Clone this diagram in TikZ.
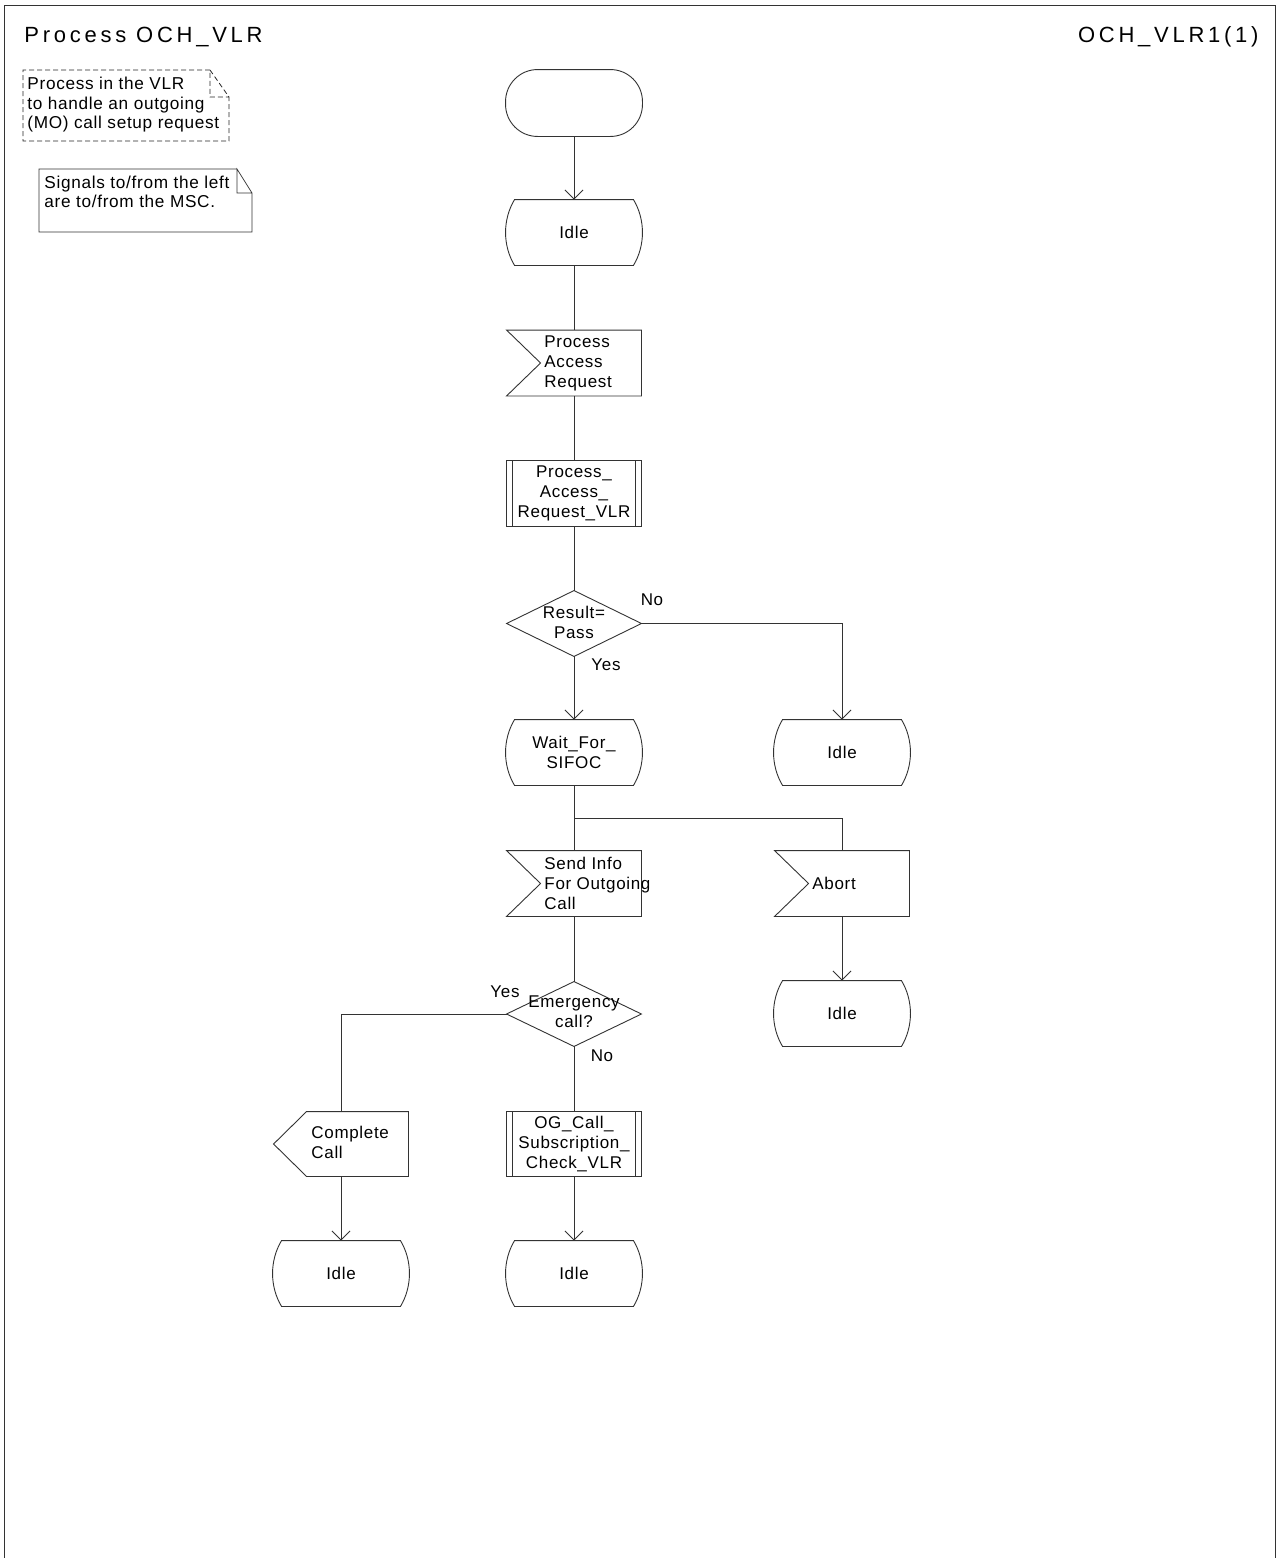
\documentclass[tikz,border=0pt]{standalone}
\usepackage{fontspec}
\setmainfont{Liberation Sans}
\newfontfamily\bodyfont[LetterSpace=4]{Liberation Sans}
\newfontfamily\titlefont[LetterSpace=17]{Liberation Sans}
\usetikzlibrary{arrows.meta,calc}
\newcommand\bodytext{\bodyfont\fontsize{17}{20}\selectfont}
\newcommand\notetext{\bodyfont\fontsize{17.2}{19.5}\selectfont}
\newcommand\titletext{\titlefont\fontsize{22}{26}\selectfont}
\newcommand\statepath[1]{\draw ($(#1.north west)+(9,0)$) -- ($(#1.north east)+(-9,0)$) .. controls ($(#1.north east)+(3,20)$) and ($(#1.south east)+(3,-20)$) .. ($(#1.south east)+(-9,0)$) -- ($(#1.south west)+(9,0)$) .. controls ($(#1.south west)+(-3,-20)$) and ($(#1.north west)+(-3,20)$) .. cycle;}
\newcommand\inpath[1]{\draw (#1.north west) -- (#1.north east) -- (#1.south east) -- (#1.south west) -- ($(#1.west)+(34,0)$) -- cycle;}
\newcommand\outpath[1]{\draw (#1.west) -- ($(#1.north west)+(33,0)$) -- (#1.north east) -- (#1.south east) -- ($(#1.south west)+(33,0)$) -- cycle;}
\newcommand\procpath[1]{\draw (#1.north west) rectangle (#1.south east); \draw ($(#1.north west)+(6,0)$) -- ($(#1.south west)+(6,0)$); \draw ($(#1.north east)+(-6,0)$) -- ($(#1.south east)+(-6,0)$);}
\newcommand\decpath[1]{\draw (#1.west) -- (#1.north) -- (#1.east) -- (#1.south) -- cycle;}
\tikzset{
  shp/.style={draw=none, minimum width=134pt, minimum height=65pt, inner sep=0pt, align=center, font=\bodytext},
  txt/.style={inner sep=0pt, align=left, font=\bodytext, anchor=west},
  lbl/.style={inner sep=0pt, font=\bodytext},
  arr/.style={-{Straight Barb[length=9pt,width=18pt]}},
}
\begin{document}
\begin{tikzpicture}[x=1pt,y=-1pt, line width=0.9pt, draw=black!80]
\useasboundingbox (0,0) rectangle (1279,1558);
\fill[white] (0,0) rectangle (1279,1558);
% frame
\draw (4,1558) -- (4,5) -- (1275,5) -- (1275,1558);
\node[anchor=west, inner sep=0pt, font=\titletext] (title) at (24,37) {Process OCH\_VLR};
\node[anchor=east, inner sep=0pt, font=\titletext] (page) at (1259,37) {OCH\_VLR1(1)};
% comment notes
\draw[dashed, dash pattern=on 5pt off 3pt, line width=0.8pt, draw=black!85] (210,70) -- (23,70) -- (23,141) -- (229,141) -- (229,97) -- (210,70) -- (210,97) -- (229,97);
\node[inner sep=0pt, align=left, anchor=west, font=\notetext] (c1) at (27,105) {Process in the VLR\\to handle an outgoing\\(MO) call setup request};
\draw[line width=0.7pt] (237,169) -- (39,169) -- (39,232) -- (252,232) -- (252,193) -- (237,169) -- (237,193) -- (252,193);
\node[inner sep=0pt, align=left, anchor=west, font=\notetext] (c2) at (44,192) {Signals to/from the left\\are to/from the MSC.};
% nodes
\node[shp, minimum width=136pt, minimum height=66pt] (start) at (574,103) {};
\draw[rounded corners=32pt] (start.north west) rectangle (start.south east);
\node[shp, minimum width=136pt] (idle1) at (574,232.5) {Idle}; \statepath{idle1}
\node[shp] (par) at (574,363) {}; \inpath{par}
\node[txt] (part) at (544,363) {Process\\Access\\Request};
\node[shp] (parv) at (574,493.5) {Process\_\\Access\_\\Request\_VLR}; \procpath{parv}
\node[shp] (dec1) at (574,623.5) {}; \decpath{dec1}
\node[lbl, align=center] (dec1t) at (574,622) {Result=\\Pass};
\node[lbl] (no1) at (652,600) {No};
\node[lbl] (yes1) at (606,665) {Yes};
\node[shp, minimum width=136pt] (wait) at (574,752.5) {Wait\_For\_\\SIFOC}; \statepath{wait}
\node[shp, minimum width=136pt] (idle2) at (842,752.5) {Idle}; \statepath{idle2}
\node[shp] (send) at (574,883.5) {}; \inpath{send}
\node[txt] (sendt) at (544,883.5) {Send Info\\For Outgoing\\Call};
\node[shp] (abort) at (842,883.5) {}; \inpath{abort}
\node[txt] (abortt) at (812,883.5) {Abort};
\node[shp, minimum width=136pt] (idle3) at (842,1013.5) {Idle}; \statepath{idle3}
\node[shp, minimum height=64pt] (dec2) at (574,1014) {}; \decpath{dec2}
\node[lbl, align=center] (dec2t) at (574,1012) {Emergency\\call?};
\node[lbl] (yes2) at (505,992) {Yes};
\node[lbl] (no2) at (602,1056) {No};
\node[shp, minimum height=64pt] (cc) at (341,1144) {}; \outpath{cc}
\node[txt] (cct) at (311,1142) {Complete\\Call};
\node[shp, minimum height=64pt] (og) at (574,1144) {OG\_Call\_\\Subscription\_\\Check\_VLR}; \procpath{og}
\node[shp, minimum width=136pt] (idle4) at (341,1273.5) {Idle}; \statepath{idle4}
\node[shp, minimum width=136pt] (idle5) at (574,1273.5) {Idle}; \statepath{idle5}
% connectors
\draw[arr] (start.south) -- (idle1.north);
\draw (idle1.south) -- (par.north);
\draw (par.south) -- (parv.north);
\draw (parv.south) -- (dec1.north);
\draw[arr] (dec1.south) -- (wait.north);
\draw[arr] (dec1.east) -| (idle2.north);
\draw (wait.south) -- (send.north);
\coordinate (br) at ($(wait.south)+(0,33)$);
\draw (br) -| (abort.north);
\draw[arr] (abort.south) -- (idle3.north);
\draw (send.south) -- (dec2.north);
\draw (dec2.west) -| (cc.north);
\draw (dec2.south) -- (og.north);
\draw[arr] (cc.south) -- (idle4.north);
\draw[arr] (og.south) -- (idle5.north);
\end{tikzpicture}
\end{document}
